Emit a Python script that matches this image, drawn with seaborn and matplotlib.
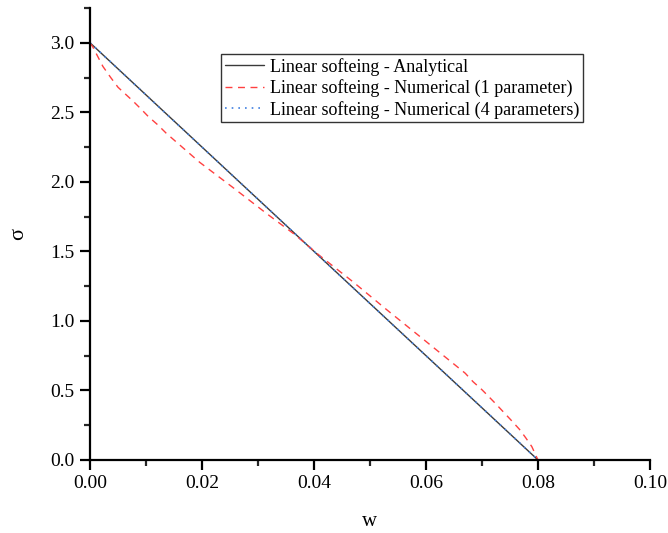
import numpy as np
import pandas as pd
import matplotlib
matplotlib.use("Agg")
import matplotlib.pyplot as plt
import seaborn as sns
from matplotlib.ticker import MultipleLocator, AutoMinorLocator, FormatStrFormatter

# Data
w_analytical = [0.0, 0.08]
s_analytical = [3.0, 0.0]

w_num1 = [0.0, 0.0005, 0.0014, 0.0023, 0.0037, 0.005, 0.0077, 0.0092, 0.0104,
          0.0121, 0.0136, 0.0196, 0.0255, 0.0316, 0.0366, 0.041, 0.047, 0.053,
          0.059, 0.067, 0.0684, 0.070, 0.0713, 0.0726, 0.0739, 0.0753, 0.0767,
          0.0778, 0.0789, 0.080]
s_num1 = [3.0, 2.97, 2.90, 2.83, 2.75, 2.68, 2.58, 2.52, 2.47,
          2.41, 2.35, 2.14, 1.96, 1.77, 1.62, 1.47, 1.28, 1.08,
          0.885, 0.624, 0.563, 0.505, 0.452, 0.398, 0.342, 0.282, 0.22,
          0.16, 0.096, 0.0]

w_num4 = [0.0, 0.02, 0.04, 0.06, 0.08]
s_num4 = [3.0, 2.25, 1.50, 0.75, 0.0]

labels = ["Linear softeing - Analytical",
          "Linear softeing - Numerical (1 parameter)",
          "Linear softeing - Numerical (4 parameters)"]

sns.set_theme(style="ticks")
plt.rcParams['font.family'] = ['Liberation Serif', 'DejaVu Serif']
plt.rcParams['text.color'] = 'black'
plt.rcParams['axes.labelcolor'] = 'black'

fig = plt.figure(figsize=(6.68, 5.33), dpi=100)
ax = fig.add_axes([90/668, 73/533, 560/668, 452/533])

df_a = pd.DataFrame({"w": w_analytical, "s": s_analytical})
df_1 = pd.DataFrame({"w": w_num1, "s": s_num1})
df_4 = pd.DataFrame({"w": w_num4, "s": s_num4})

sns.lineplot(data=df_a, x="w", y="s", ax=ax, color="#3a3a3a", lw=1.0,
             label=labels[0], sort=False)
sns.lineplot(data=df_1, x="w", y="s", ax=ax, color="#ff4040", lw=1.0,
             linestyle=(0, (5, 4)), label=labels[1], sort=False)
sns.lineplot(data=df_4, x="w", y="s", ax=ax, color="#3f7fe0", lw=1.2,
             linestyle=(0, (1, 3)), label=labels[2], sort=False)

ax.set_xlim(0, 0.10)
ax.set_ylim(0, 3.25)
ax.xaxis.set_major_locator(MultipleLocator(0.02))
ax.xaxis.set_minor_locator(AutoMinorLocator(2))
ax.yaxis.set_major_locator(MultipleLocator(0.5))
ax.yaxis.set_minor_locator(AutoMinorLocator(2))
ax.xaxis.set_major_formatter(FormatStrFormatter('%.2f'))
ax.yaxis.set_major_formatter(FormatStrFormatter('%.1f'))

for s in ["top", "right"]:
    ax.spines[s].set_visible(False)
for s in ["left", "bottom"]:
    ax.spines[s].set_linewidth(1.6)
    ax.spines[s].set_color("black")

ax.tick_params(axis="both", which="major", direction="out", length=7, width=1.6,
               labelsize=14, colors="black", pad=4)
ax.tick_params(axis="both", which="minor", direction="out", length=4, width=1.6)

ax.set_xlabel("w", fontsize=15, labelpad=14, color="black")
ax.set_ylabel("σ", fontsize=16, labelpad=16, color="black")

leg = ax.legend(loc="upper left", bbox_to_anchor=(0.234, 0.898), borderaxespad=0,
                fontsize=13, frameon=True, fancybox=False, edgecolor="black",
                handlelength=2.2, handletextpad=0.33, labelspacing=0.2,
                borderpad=0.2, labelcolor="black")
leg.get_frame().set_linewidth(1.0)

fig.savefig("out.png", dpi=100)
